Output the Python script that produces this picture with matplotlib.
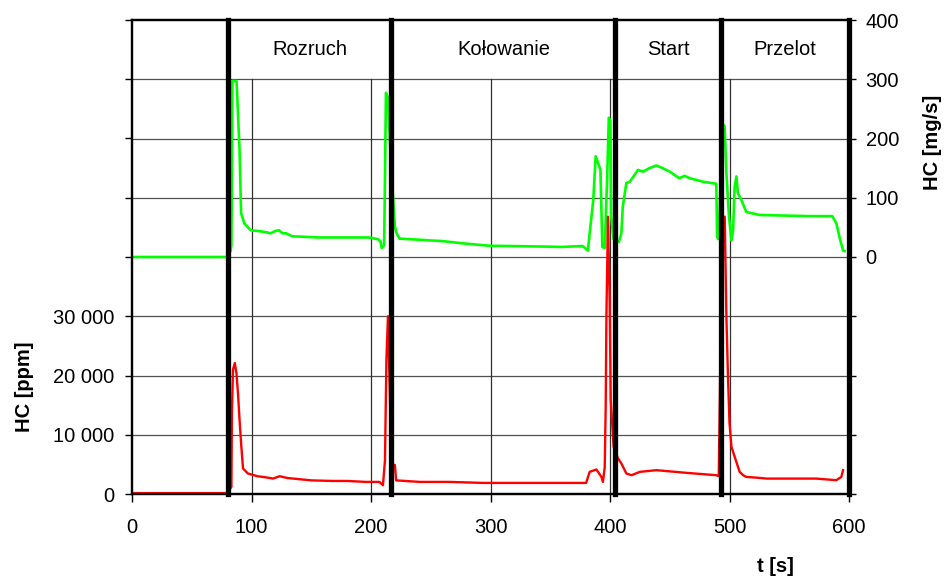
import numpy as np
import matplotlib
matplotlib.use('Agg')
import matplotlib.pyplot as plt
import matplotlib.transforms as mtransforms

plt.rcParams['font.family'] = ['Liberation Sans', 'DejaVu Sans']
plt.rcParams['font.size'] = 14.5

# HC [mg/s] - zielona (prawa os)
t_mgs = [0, 79, 82.5, 83.2, 83.6, 84, 87.5, 88.5, 90, 91.3, 94, 97, 99.6, 105, 112, 116, 120,
         123, 126, 129, 134, 145, 156, 170, 184, 198, 206, 208, 209, 211, 211.8, 212.5, 214,
         217, 220, 221.4, 224, 242, 249, 259, 277, 299, 333, 360, 377, 381.5, 383, 386, 388,
         390, 392, 393.6, 395.6, 397.5, 399, 400.3, 401, 403, 407.5, 409.5, 410.7, 413.7,
         416.5, 419, 423.4, 427.6, 433, 438.8, 444, 450, 458, 462.5, 466.7, 478, 489, 489.6,
         491, 494, 495.9, 497.4, 499.6, 501.6, 503, 504.3, 505.8, 507, 510, 514, 525, 544.6,
         567, 586, 589.4, 592, 595, 596.4]
hc_mgs = [0, 0, 10, 20, 150, 297, 297, 250, 181, 74, 57, 50, 45, 44, 42, 40, 44,
          45, 40, 40, 35, 34, 33, 33, 33, 33, 30, 26, 15, 20, 150, 277, 270,
          150, 51, 40, 31, 29, 28, 27, 23, 19, 18, 17, 18.5, 11, 40, 96, 170,
          159, 147, 17, 15, 125, 235, 230, 68, 30, 25.5, 40, 85, 125,
          127, 134, 147, 144, 150, 154.5, 150, 144, 133, 137, 133, 127, 123.5, 34,
          30, 225, 221, 142, 68, 28, 45, 119, 136, 108, 96, 76, 71, 70,
          69, 69, 57, 34, 11, 10]

# HC [ppm] - czerwona (lewa os)
t_ppm = [0, 80, 82.5, 83.2, 83.6, 84.5, 86, 87.4, 88.7, 90, 91.5, 92.9, 97, 105, 112.5, 118,
         123.6, 130, 140, 150, 168, 180, 196, 207, 210, 211.7, 212.9, 214.2, 216, 218, 220,
         221, 241, 266, 293.6, 349.5, 380, 383, 388.6, 392.8, 394.1, 395.6, 396.4, 397,
         398.3, 399.7, 400.6, 403, 406.7, 409.5, 413.7, 418, 425, 438.8, 464, 489, 491, 494,
         496, 497.4, 498.7, 500, 501.6, 504.3, 508.5, 511.4, 514, 525, 531, 572.7, 589.4,
         593.6, 595]
hc_ppm = [150, 150, 1000, 1200, 13600, 21000, 22100, 20400, 17000, 12500, 8000, 4300, 3460,
          3000, 2800, 2600, 3000, 2700, 2500, 2300, 2200, 2200, 2040, 2040, 1480, 5700, 22700,
          30000, 15000, 5000, 4900, 2300, 2040, 2040, 1870, 1870, 1870, 3740, 4140, 2890, 2040,
          4580, 14770, 30000, 46800, 32900, 15900, 8000, 6000, 5160, 3460, 3170, 3740, 4020,
          3570, 3170, 3000, 46000, 46800, 30000, 20000, 12000, 8000, 6300, 3740, 3170, 2890,
          2720, 2600, 2600, 2330, 2890, 4020]

# fazy
granice = [80.3, 217.1, 404.5, 492.6, 600]
fazy = ['Rozruch', 'Kołowanie', 'Start', 'Przelot']

fig = plt.figure(figsize=(9.47, 5.81), dpi=100)
ax = fig.add_axes([132/947, 1-494/581, 717/947, 474/581])
ax2 = ax.twinx()

ax.set_xlim(0, 600)
ax.set_ylim(0, 80000)
ax2.set_ylim(-400, 400)

# siatka
for y in range(-300, 400, 100):
    ax2.axhline(y, color='#505050', lw=0.9, zorder=0)
for x in range(100, 600, 100):
    ax2.axvline(x, ymin=0, ymax=0.875, color='#303030', lw=0.9, zorder=0)

ax2.plot(t_mgs, hc_mgs, color='#00ff00', lw=1.9, zorder=2)

ax.set_zorder(ax2.get_zorder() + 1)
ax.patch.set_visible(False)
ax.plot(t_ppm, hc_ppm, color='#ff0000', lw=1.7, zorder=2)

for g in granice:
    ax.axvline(g, color='black', lw=3.8, zorder=5, clip_on=False)

trans = mtransforms.blended_transform_factory(ax.transData, ax.transAxes)
lewo = granice[:-1]
prawo = granice[1:]
for a, b, nazwa in zip(lewo, prawo, fazy):
    ax.text((a + b) / 2, 0.9375, nazwa, transform=trans, ha='center', va='center')

# osie
ax.set_xticks(range(0, 700, 100))
ax.set_yticks(range(0, 90000, 10000))
ax.set_yticklabels(['0', '10 000', '20 000', '30 000', '', '', '', '', ''])
ax2.set_yticks(range(-400, 500, 100))
ax2.set_yticklabels(['', '', '', '', '0', '100', '200', '300', '400'])

ax.tick_params(axis='y', direction='out', length=5, width=1, pad=8)
ax.tick_params(axis='x', direction='out', length=6, width=1, pad=11)
ax2.tick_params(axis='y', direction='out', length=5, width=1, pad=7)

for a in (ax, ax2):
    for s in a.spines.values():
        s.set_linewidth(1.6)
    a.spines['right'].set_visible(False)

fig.text(25/947, 1-387/581, 'HC [ppm]', rotation=90, ha='center', va='center', fontweight='bold')
fig.text(932/947, 1-142/581, 'HC [mg/s]', rotation=90, ha='center', va='center', fontweight='bold')
fig.text(775/947, 1-567/581, 't [s]', ha='center', va='center', fontweight='bold')

plt.savefig('out.png', dpi=100)
plt.close()
